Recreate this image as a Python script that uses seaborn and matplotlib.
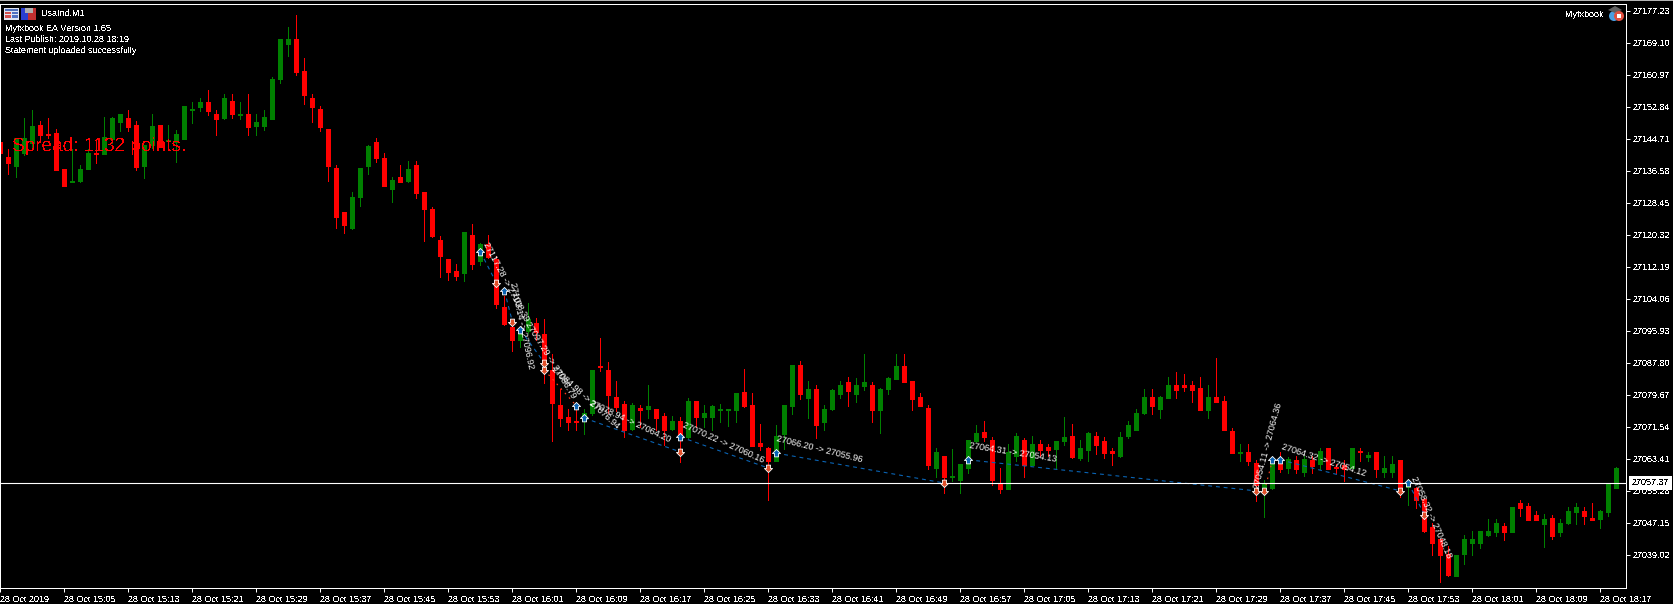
import numpy as np
import pandas as pd
import seaborn as sns
import matplotlib.pyplot as plt
from matplotlib.patches import Rectangle, Circle, Polygon
from matplotlib.path import Path
from matplotlib.transforms import IdentityTransform

#candle values, in points above this base
price_base = 27000
highs = [144.0,142.2,144.9,150.0,152.1,149.3,150.0,147.2,137.1,142.2,
138.1,142.2,144.2,150.3,150.3,151.0,152.1,149.3,143.2,151.0,
148.3,148.3,147.0,153.1,154.1,155.1,157.1,152.1,156.1,156.1,
154.1,156.1,151.0,152.1,160.4,170.1,173.1,176.2,165.3,156.1,
153.1,147.2,138.1,126.2,131.2,137.3,143.2,144.9,141.1,135.0,
138.1,139.1,139.1,131.2,127.4,120.1,114.2,112.9,121.1,123.1,
118.3,120.3,115.0,104.8,98.2,96.2,103.0,99.2,99.0,90.1,
81.2,76.1,77.4,76.1,86.0,94.1,88.1,83.2,78.1,77.6,
77.1,82.2,76.1,75.1,74.3,74.1,78.9,78.1,77.1,77.1,
77.4,76.1,80.2,86.3,80.2,72.3,66.5,72.1,77.1,87.3,
88.3,83.2,82.2,77.1,81.2,83.2,84.2,84.0,90.1,83.0,
81.4,84.2,90.1,90.1,83.2,80.2,77.1,66.2,64.2,66.0,
62.1,68.2,72.1,73.1,69.0,61.1,67.2,70.0,68.7,69.3,
68.2,67.2,68.0,74.1,72.3,68.2,70.3,70.3,69.0,66.2,
70.3,73.1,76.1,81.2,81.2,79.4,84.2,85.5,85.0,83.2,
84.2,82.2,89.1,79.4,71.3,67.2,67.2,63.2,58.1,63.9,
65.2,63.9,64.2,64.2,64.2,66.2,66.2,62.1,63.2,66.2,
66.2,65.2,65.2,64.2,64.2,63.2,58.1,56.3,53.5,47.2,
43.1,41.3,39.0,44.1,45.1,45.1,48.2,48.2,47.2,51.2,
53.0,52.2,50.2,49.4,49.2,48.2,51.2,52.2,51.2,52.2,
50.5,57.3,61.4]
lows = [140.9,135.8,135.0,140.6,142.7,143.9,144.9,136.8,132.8,133.8,
133.8,137.1,138.6,140.9,143.7,146.7,146.7,136.8,134.8,142.4,
142.7,143.7,138.9,144.7,148.8,151.8,150.8,145.7,149.8,150.0,
149.8,145.7,145.7,147.0,149.8,158.9,165.8,160.9,153.6,149.0,
146.7,134.0,122.1,120.8,121.8,127.7,135.8,138.9,132.8,128.7,
133.8,133.8,129.7,118.8,119.8,109.6,108.9,108.9,108.6,111.7,
112.7,114.5,101.8,97.4,90.8,91.9,95.4,93.6,82.7,68.0,
71.8,70.8,70.8,69.8,74.6,85.8,75.1,75.6,69.0,70.8,
71.5,73.8,70.8,67.0,70.8,62.7,68.7,71.5,71.5,70.8,
72.8,71.8,72.8,76.6,66.7,65.7,53.0,62.9,66.0,74.8,
78.7,73.8,68.7,70.8,75.9,78.9,76.9,77.9,80.9,72.8,
70.0,79.9,83.7,83.0,75.9,76.9,60.9,58.8,54.8,57.8,
54.8,59.9,67.7,68.0,56.8,54.8,55.8,62.9,58.8,61.9,
64.2,64.2,61.1,67.0,63.7,63.2,62.9,64.7,63.7,61.9,
63.9,68.7,70.8,74.8,74.8,73.8,78.9,78.9,80.7,77.9,
75.9,73.8,77.9,70.8,64.9,62.9,61.9,52.7,48.7,55.8,
60.1,59.9,59.9,59.1,59.9,60.9,60.9,59.9,57.8,61.1,
62.9,62.9,58.8,58.8,58.8,53.8,51.7,51.0,44.9,39.0,
32.2,33.7,33.7,36.7,39.0,40.8,43.9,43.9,42.8,44.9,
48.9,47.9,47.9,41.1,43.1,43.9,46.9,46.9,46.9,47.9,
45.9,48.9,56.0]
opens = [144.0,140.1,137.8,141.1,143.7,148.3,146.0,146.2,137.1,133.8,
134.0,137.1,141.1,140.9,144.7,149.0,150.0,148.3,137.8,143.2,
148.3,144.2,143.9,144.7,152.1,152.8,154.1,151.0,150.0,154.3,
150.8,151.0,148.0,148.0,149.8,159.9,168.8,170.1,162.0,155.1,
152.3,147.2,137.3,126.2,122.1,130.0,137.8,143.9,139.9,132.0,
135.0,134.0,138.1,131.2,126.9,119.0,114.2,111.2,110.7,120.3,
113.7,118.0,114.2,102.0,96.9,93.6,95.9,98.0,95.2,86.0,
77.1,74.1,73.1,73.1,75.1,87.0,86.0,79.2,77.4,71.0,
76.4,76.1,76.1,74.3,71.0,73.1,69.0,78.1,74.1,74.1,
75.9,75.9,75.9,80.4,77.1,67.5,66.2,62.9,69.8,76.9,
87.3,78.9,81.2,72.8,76.1,79.9,83.0,79.9,82.0,82.2,
75.9,81.2,83.7,87.0,83.2,79.2,76.4,61.1,64.2,58.8,
58.1,61.1,68.0,70.3,68.2,57.1,55.8,64.2,68.2,61.9,
67.2,66.5,66.0,68.0,69.3,63.7,65.7,69.3,68.0,65.5,
64.2,69.3,70.8,75.1,79.2,76.1,78.9,82.2,82.2,82.2,
81.4,75.9,79.2,78.1,70.5,64.9,65.2,62.4,56.3,56.0,
62.1,61.1,63.2,60.1,63.2,62.1,66.2,61.4,61.9,61.1,
65.5,63.9,65.2,60.1,60.1,63.2,56.3,56.0,53.3,46.1,
43.1,39.3,33.7,39.3,42.1,42.1,44.1,44.9,46.4,44.9,
52.2,51.5,49.2,46.9,48.4,44.9,47.2,49.9,50.2,48.4,
48.2,49.9,56.0]
closes = [141.1,138.6,144.9,144.9,148.0,145.7,145.7,136.8,132.8,134.0,
137.1,141.1,140.9,145.2,150.0,151.0,147.7,137.6,143.2,148.0,
142.7,144.4,146.0,153.1,152.3,154.1,151.8,149.8,155.1,151.0,
151.0,147.7,149.0,150.3,159.9,170.1,170.1,161.7,155.9,152.8,
147.7,137.8,124.9,122.9,130.0,137.3,142.9,139.9,132.8,134.3,
133.8,137.1,131.0,126.9,120.1,115.0,110.9,109.9,121.1,112.9,
118.0,114.7,102.8,97.7,93.6,95.4,99.0,95.7,87.8,77.6,
73.8,72.8,72.8,75.1,86.0,86.8,79.7,76.6,70.8,77.1,
75.9,76.9,73.8,70.8,73.1,69.5,78.1,74.1,75.1,76.9,
76.1,76.1,80.2,76.9,66.7,66.7,62.9,69.3,77.1,87.3,
79.9,81.2,72.1,76.1,80.9,82.2,80.7,82.2,83.0,75.9,
81.2,84.0,87.0,83.0,78.7,76.9,61.9,65.2,58.8,59.1,
62.1,68.2,70.0,69.0,58.1,55.8,65.2,69.3,61.9,67.2,
65.7,65.7,68.0,69.0,63.9,66.2,70.0,67.0,64.9,64.9,
69.0,72.1,75.1,79.2,76.9,79.2,82.2,80.9,81.7,80.9,
75.9,79.2,77.9,70.8,64.9,65.2,62.9,56.8,57.3,62.1,
60.9,63.4,60.9,63.4,61.6,65.5,60.9,61.1,60.9,66.2,
65.2,64.4,60.9,61.1,62.1,55.5,57.3,53.0,45.1,42.1,
39.0,34.0,39.0,43.1,43.1,45.1,45.1,47.2,44.9,51.2,
51.0,47.9,47.9,48.2,43.9,47.2,50.2,51.2,48.9,47.9,
50.2,57.1,61.1]

#trades: open and close of every position
trade_open_bar = [60,63,65,68,73,85,97,121,158,160,176]
trade_open_price = [116.0,106.1,96.2,86.0,73.8,69.0,64.9,63.2,55.3,63.2,57.3]
trade_close_bar = [62,64,68,72,85,96,118,157,159,175,178]
trade_close_price = [108.1,98.2,87.8,76.9,65.2,61.1,57.3,55.3,63.2,55.3,49.2]
trade_kind = ["buy","buy","buy","sell","buy","buy","buy","buy","sell","buy","buy"]
trade_labels = ["27117.28 -> 27108.39","27103.14 -> 27096.92","27097.29 -> 27086.79",
                "27084.98 -> 27076.94","27078.94 -> 27064.20","27070.22 -> 27060.16",
                "27066.20 -> 27055.96","27064.31 -> 27054.13","27054.11 -> 27064.36",
                "27064.32 -> 27054.12","27058.32 -> 27048.18"]

#axis text
current_price = 27057.37
y_ticks = [27177.23,27169.10,27160.97,27152.84,27144.71,27136.58,27128.45,27120.32,27112.19,
           27104.06,27095.93,27087.80,27079.67,27071.54,27063.41,27055.28,27047.15,27039.02]
x_tick_labels = ["28 Oct 2019","28 Oct 15:05","28 Oct 15:13","28 Oct 15:21","28 Oct 15:29",
                 "28 Oct 15:37","28 Oct 15:45","28 Oct 15:53","28 Oct 16:01","28 Oct 16:09",
                 "28 Oct 16:17","28 Oct 16:25","28 Oct 16:33","28 Oct 16:41","28 Oct 16:49",
                 "28 Oct 16:57","28 Oct 17:05","28 Oct 17:13","28 Oct 17:21","28 Oct 17:29",
                 "28 Oct 17:37","28 Oct 17:45","28 Oct 17:53","28 Oct 18:01","28 Oct 18:09",
                 "28 Oct 18:17"]

#label layout: offset from the trade open in pixels, and angle
label_spots = [(4.5,9,-62),(7.5,8,-78),(6.5,7,-58),(8.5,2,-42),(5.5,15,-25),(2.5,12,-24),
               (0.5,15,-14),(0.5,14,-9),(-7.5,3,75),(1.5,13,-18),(4.5,6,-66)]

W, H = 1674, 604
FONT = "Liberation Sans"
sns.set_style("dark", {"axes.facecolor": "black", "figure.facecolor": "black"})
plt.rcParams["font.family"] = [FONT, "DejaVu Sans"]
#the reference text is not smoothed
plt.rcParams["text.antialiased"] = False
plt.rcParams["text.hinting"] = "no_hinting"
plt.rcParams["text.hinting_factor"] = 1

fig = plt.figure(figsize=(W/100, H/100), dpi=100, facecolor="black")
ax = fig.add_axes([0.5/W, (H-587.5)/H, 1626/W, 584/H])

#long tables for seaborn, two rows per segment
bars = np.arange(len(highs))
direction = np.where(np.array(closes) >= np.array(opens), "up", "down")
wicks = pd.DataFrame({"bar": np.tile(bars, 2),
                      "price": price_base + np.concatenate([lows, highs]),
                      "direction": np.tile(direction, 2)})
bodies = pd.DataFrame({"bar": np.tile(bars, 2),
                       "price": price_base + np.concatenate([opens, closes]),
                       "direction": np.tile(direction, 2)})
palette = {"up": "#008000", "down": "#ff0000"}

for frame, width in [(wicks, 0.72), (bodies, 3.6)]:
    sns.lineplot(data=frame, x="bar", y="price", hue="direction", units="bar", estimator=None,
                 palette=palette, legend=False, sort=False, linewidth=width, ax=ax,
                 solid_capstyle="butt", antialiased=False, zorder=2)

#trade lines
kinds = np.array(trade_kind)
trades = pd.DataFrame({"trade": np.tile(np.arange(len(kinds)), 2),
                       "bar": trade_open_bar + trade_close_bar,
                       "price": price_base + np.array(trade_open_price + trade_close_price),
                       "kind": np.tile(kinds, 2)})
sns.lineplot(data=trades[trades.kind == "buy"], x="bar", y="price", units="trade", estimator=None,
             color="#0a64b4", linewidth=0.8, linestyle=(0, (3.5, 3.5)), ax=ax, zorder=3)
sns.lineplot(data=trades[trades.kind == "sell"], x="bar", y="price", units="trade", estimator=None,
             color="#ff4020", linewidth=0.8, linestyle=(0, (1.5, 4)), ax=ax, zorder=3)

#arrows: blue where a buy opened or a sell closed, orange for the others
up_arrow = Path([(0,.6),(.6,0),(.3,0),(.3,-.5),(-.3,-.5),(-.3,0),(-.6,0),(0,.6)], closed=True)
down_arrow = Path([(0,-.6),(.6,0),(.3,0),(.3,.5),(-.3,.5),(-.3,0),(-.6,0),(0,-.6)], closed=True)
up_points = trades[((trades.index < len(kinds)) & (trades.kind == "buy")) | ((trades.index >= len(kinds)) & (trades.kind == "sell"))]
down_points = trades.drop(up_points.index)
sns.scatterplot(data=up_points, x="bar", y="price", marker=up_arrow, color="#0a64b4", s=34,
                edgecolor="white", linewidth=0.6, legend=False, ax=ax, zorder=5)
sns.scatterplot(data=down_points, x="bar", y="price", marker=down_arrow, color="#e0502a", s=34,
                edgecolor="white", linewidth=0.6, legend=False, ax=ax, zorder=5)

#smoothed here so the decimal points survive the rotation
for bar, price, label_text, (dx, dy, angle) in zip(trade_open_bar, trade_open_price, trade_labels, label_spots):
    ax.annotate(label_text, (bar, price_base + price), xytext=(dx, dy), textcoords="offset pixels",
                rotation=angle, rotation_mode="anchor", ha="left", va="center",
                color="white", fontsize=6.5, zorder=6, antialiased=True)

#bid line and its label
ax.axhline(current_price, color="white", linewidth=0.8, zorder=4)
ax.annotate(f"{current_price:.2f}", (1, current_price), xycoords=ax.get_yaxis_transform(),
            xytext=(5, 0), textcoords="offset pixels", annotation_clip=False, ha="left", va="center",
            color="black", fontsize=6.8, zorder=7,
            bbox=dict(boxstyle="square,pad=0.28", fc="white", ec="none"))

#axes
ax.set_xlim(0, 203.25)
ax.set_ylim(27180.03 - 0.25406*587.5, 27180.03 - 0.25406*3.5)
ax.set_xlabel("")
ax.set_ylabel("")
ax.grid(False)
ax.yaxis.tick_right()
ax.set_yticks(y_ticks)
ax.set_yticklabels([f"{v:.2f}" for v in y_ticks])
ax.set_xticks(np.arange(0, 201, 8))
ax.set_xticklabels(x_tick_labels, ha="left")
ax.tick_params(axis="both", which="both", length=2.9, width=0.72, color="white",
               labelcolor="white", labelsize=6.8, bottom=True, right=True, left=False, pad=1.5)
ax.tick_params(axis="x", pad=2.5)
for spine in ax.spines.values():
    spine.set_visible(True)
    spine.set_color("white")
    spine.set_linewidth(0.72)

#window furniture, given in image pixels
px = IdentityTransform()


def box(x, y, w, h, color):
    fig.add_artist(Rectangle((x, H-y-h), w, h, transform=px, color=color, lw=0))


def label(x, y, text, **kw):
    fig.text(x, H-y, text, transform=px, va="center", color="white", fontsize=6.5, **kw)


box(0, 0, W, 1, "#b4b4b4")
#table icon
box(4, 8, 15, 12, "#dfe4f2")
box(5, 9, 13, 2, "#4f6fb8")
box(5, 12, 6, 2, "#d05050")
box(12, 12, 6, 2, "#5070c0")
box(5, 15, 6, 3, "#d05050")
box(12, 15, 6, 3, "#5070c0")
#profile icon
box(21, 8, 7, 12, "#2a3ed0")
box(28, 8, 8, 12, "#c03030")
box(25, 8, 8, 5, "#b0b0b0")

label(41, 13.5, "UsaInd,M1")
label(5, 29, "Myfxbook EA Version 1.65")
label(5, 40, "Last Publish: 2019.10.28 18:19")
label(5, 51, "Statement uploaded successfully")
label(1565, 14.5, "Myfxbook")
fig.text(12, H-146, "Spread: 1132 points.", transform=px, va="center", color="#ff0000", fontsize=13.7)

#cap and stop badge
fig.add_artist(Circle((1614, H-16), 5, transform=px, color="#4a9fe0", lw=0))
fig.add_artist(Polygon([(1608, H-10), (1615, H-6), (1622, H-10), (1615, H-13)], transform=px, color="#606060", lw=0))
fig.add_artist(Circle((1619, H-16), 5, transform=px, color="#e05040", lw=0))
box(1617, 14, 4, 4, "white")

fig.savefig("out.png", dpi=100, facecolor="black")
